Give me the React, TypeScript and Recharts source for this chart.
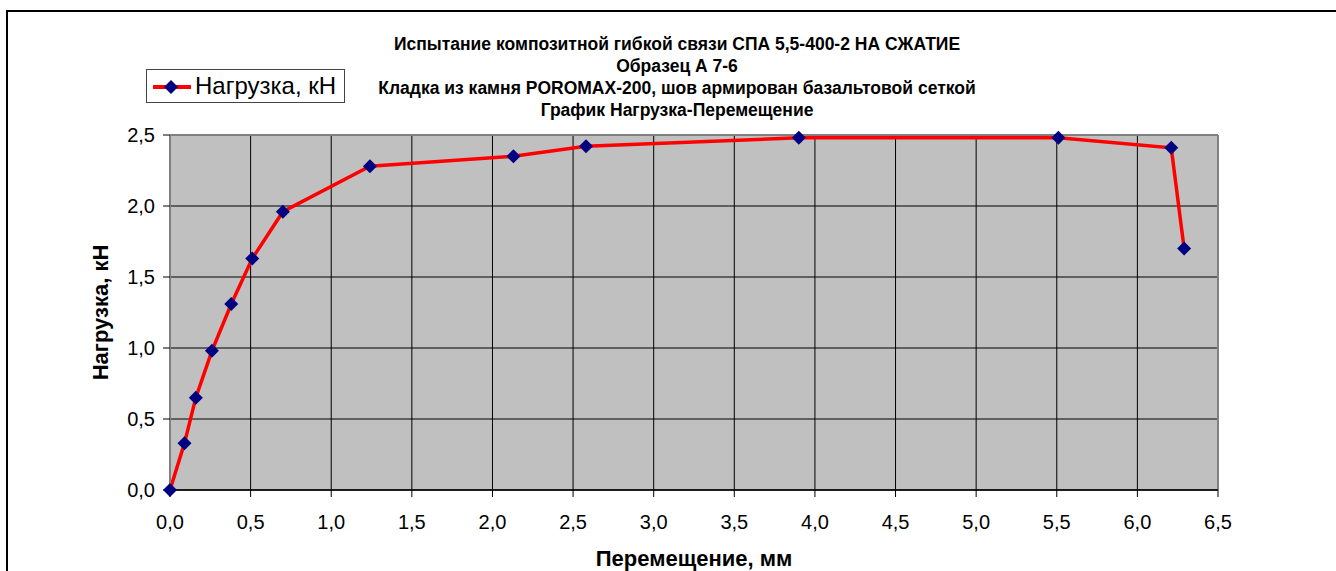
import React from 'react';
import {
  LineChart,
  Line,
  XAxis,
  YAxis,
  CartesianGrid,
  Legend,
  ReferenceLine,
} from 'recharts';

// displacement (mm) vs load (kN) measured during the test
const displacement = [0, 0.09, 0.16, 0.26, 0.38, 0.51, 0.7, 1.24, 2.13, 2.58, 3.9, 5.51, 6.21, 6.29];
const load = [0, 0.33, 0.65, 0.98, 1.31, 1.63, 1.96, 2.28, 2.35, 2.42, 2.48, 2.48, 2.41, 1.7];

const xTicks = [0, 0.5, 1, 1.5, 2, 2.5, 3, 3.5, 4, 4.5, 5, 5.5, 6, 6.5];
const yTicks = [0, 0.5, 1, 1.5, 2, 2.5];

const titleLines = [
  'Испытание композитной гибкой связи СПА 5,5-400-2 НА СЖАТИЕ',
  'Образец А 7-6',
  'Кладка из камня POROMAX-200, шов армирован базальтовой сеткой',
  'График Нагрузка-Перемещение',
];
const seriesName = 'Нагрузка, кН';
const xTitle = 'Перемещение, мм';
const yTitle = 'Нагрузка, кН';

const FONT = '"Liberation Sans", Arial, sans-serif';
const RED = '#ff0000';
const NAVY = '#000080';

const data = displacement.map((x, i) => ({ x, y: load[i] }));
const fmt = (v: number) => v.toFixed(1).replace('.', ',');

const Diamond = (props: any) => {
  const { cx, cy } = props;
  if (cx == null || cy == null) return null;
  const r = 7;
  return (
    <polygon
      points={`${cx},${cy - r} ${cx + r},${cy} ${cx},${cy + r} ${cx - r},${cy}`}
      fill={NAVY}
    />
  );
};

const LegendBox = () => (
  <div
    style={{
      border: '1px solid #444',
      background: '#fff',
      width: 197,
      height: 32,
      display: 'flex',
      alignItems: 'center',
      fontFamily: FONT,
      fontSize: 24,
      color: '#000',
    }}
  >
    <svg width={46} height={32}>
      <line x1={6} y1={17} x2={44} y2={17} stroke={RED} strokeWidth={4} />
      <polygon points="24,10 31,17 24,24 17,17" fill={NAVY} />
    </svg>
    <span style={{ marginLeft: 2, lineHeight: '32px' }}>{seriesName}</span>
  </div>
);

export default function App() {
  return (
    <div style={{ position: 'absolute', left: 0, top: 0, width: 1336, height: 571, background: '#fff' }}>
      {/* outer chart frame */}
      <div
        style={{
          position: 'absolute',
          left: 6,
          top: 10,
          width: 1340,
          height: 600,
          borderLeft: '2px solid #000',
          borderTop: '2px solid #000',
        }}
      />
      <div
        style={{
          position: 'absolute',
          left: 0,
          width: 1354,
          top: 33,
          textAlign: 'center',
          fontFamily: FONT,
          fontWeight: 'bold',
          fontSize: 17.5,
          lineHeight: '22px',
          color: '#000',
        }}
      >
        {titleLines.map((t) => (
          <div key={t}>{t}</div>
        ))}
      </div>
      <LineChart
        width={1336}
        height={571}
        data={data}
        margin={{ top: 135, right: 118, bottom: 41, left: 110 }}
        style={{ position: 'absolute', left: 0, top: 0 }}
      >
        <CartesianGrid fill="#c0c0c0" stroke="#000" strokeWidth={1} />
        <XAxis
          dataKey="x"
          type="number"
          domain={[0, 6.5]}
          ticks={xTicks}
          interval={0}
          height={40}
          tickFormatter={fmt}
          tick={{ fill: '#000', fontSize: 20, fontFamily: FONT, dy: 16 }}
          tickSize={7}
          tickLine={{ stroke: '#000' }}
          axisLine={{ stroke: '#000', strokeWidth: 1.5 }}
          label={{
            value: xTitle,
            position: 'insideBottom',
            offset: -36,
            fill: '#000',
            fontSize: 22,
            fontWeight: 'bold',
            fontFamily: FONT,
          }}
        />
        <YAxis
          dataKey="y"
          type="number"
          domain={[0, 2.5]}
          ticks={yTicks}
          interval={0}
          width={60}
          tickFormatter={fmt}
          tick={{ fill: '#000', fontSize: 20, fontFamily: FONT, dx: -6 }}
          tickSize={7}
          tickLine={{ stroke: '#000' }}
          axisLine={{ stroke: '#808080', strokeWidth: 2 }}
          label={{
            value: yTitle,
            angle: -90,
            position: 'insideLeft',
            offset: -10,
            style: { textAnchor: 'middle' },
            fill: '#000',
            fontSize: 22,
            fontWeight: 'bold',
            fontFamily: FONT,
          }}
        />
        <ReferenceLine y={2.5} stroke="#808080" strokeWidth={2} />
        <ReferenceLine x={6.5} stroke="#808080" strokeWidth={2} />
        <Legend
          layout="horizontal"
          verticalAlign="middle"
          align="center"
          content={<LegendBox />}
          wrapperStyle={{ position: 'absolute', left: 146, top: 69, width: 'auto' }}
        />
        <Line
          name={seriesName}
          dataKey="y"
          stroke={RED}
          strokeWidth={3.5}
          dot={<Diamond />}
          activeDot={false}
          isAnimationActive={false}
        />
      </LineChart>
    </div>
  );
}
